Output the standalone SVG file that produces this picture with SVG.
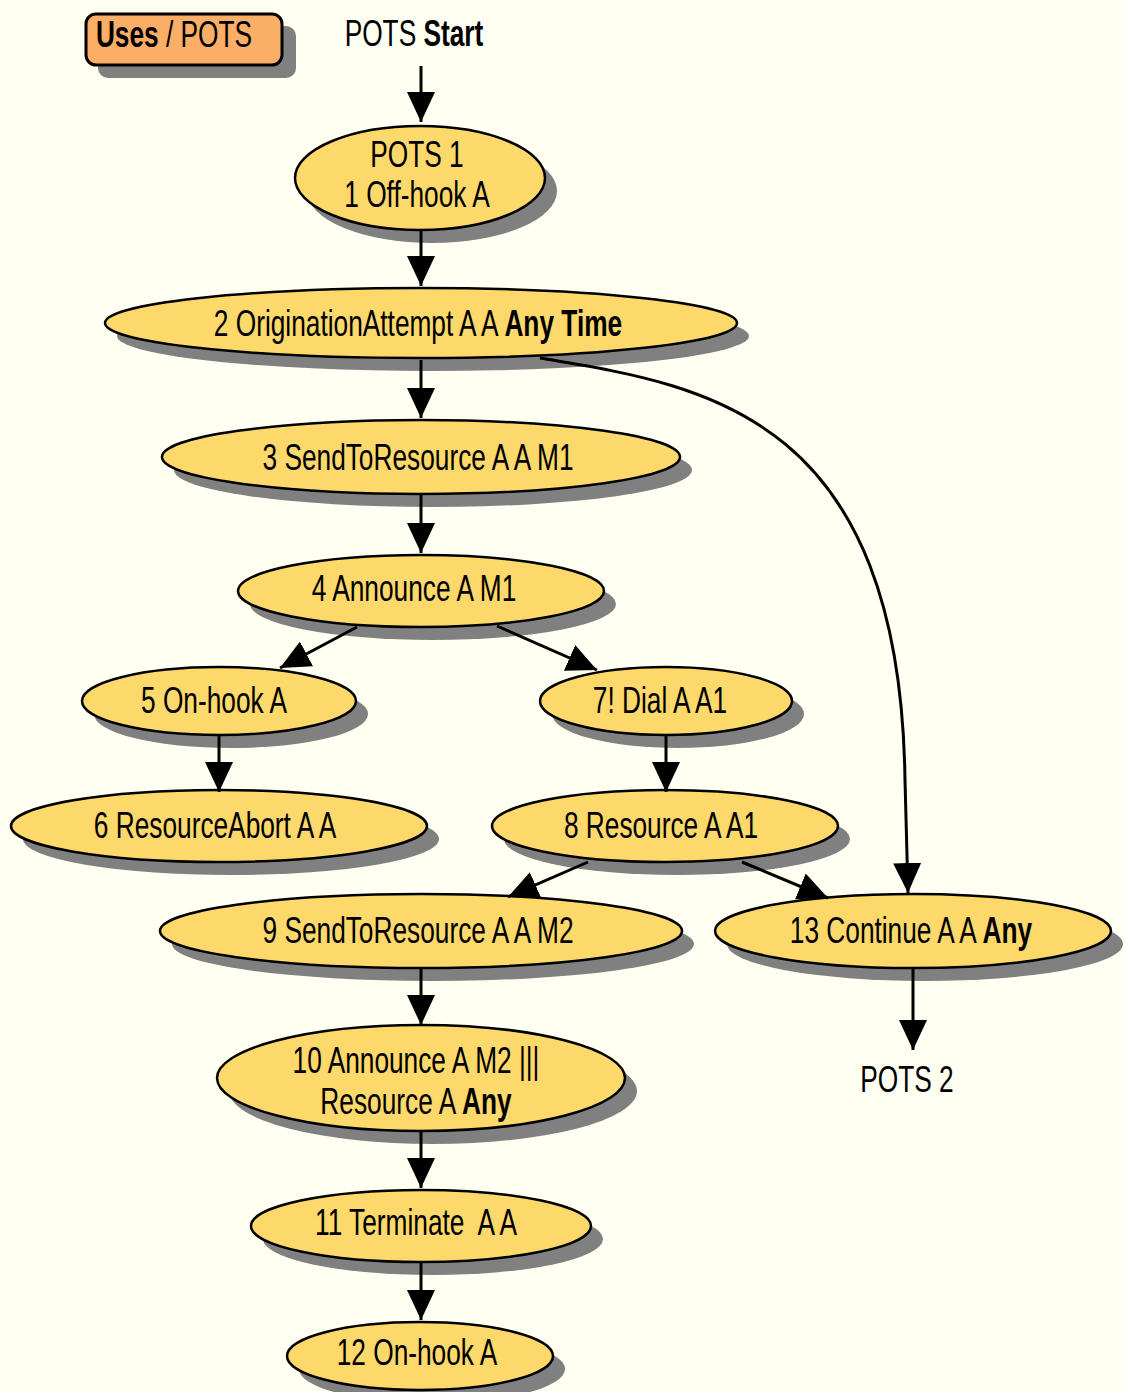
<svg xmlns="http://www.w3.org/2000/svg" width="1126" height="1392" viewBox="0 0 1126 1392">
<defs>
<style>
.bg{fill:#FFFFF2}
.sh{fill:#808080}
.nd{fill:#FCD96A;stroke:#000;stroke-width:2.5}
.t{font-family:"Liberation Sans",Arial,sans-serif;font-size:36px;fill:#000;text-anchor:middle}
.b{font-weight:bold}
.c{fill:none;stroke:#000;stroke-width:3;marker-end:url(#ah)}
</style>
<marker id="ah" viewBox="0 0 30 28" refX="30" refY="14" markerWidth="30" markerHeight="28" markerUnits="userSpaceOnUse" orient="auto">
<path d="M0,0 L30,14 L0,28 z" fill="#000"/>
</marker>
</defs>
<rect class="bg" x="0" y="0" width="1126" height="1392"/>

<g id="uses">
<rect class="sh" x="98" y="26" width="198" height="52" rx="10"/>
<rect x="86" y="14" width="196" height="51" rx="10" fill="#FBAE66" stroke="#000" stroke-width="3"/>
<g transform="translate(174,47) scale(0.73,1)"><text class="t" x="0" y="0"><tspan class="b">Uses</tspan> / POTS</text></g>
</g>

<g id="start">
<g transform="translate(414,46) scale(0.73,1)"><text class="t" x="0" y="0">POTS <tspan class="b">Start</tspan></text></g>
</g>

<g id="n1">
<ellipse class="sh" cx="432" cy="191" rx="125" ry="52"/>
<ellipse class="nd" cx="420" cy="178" rx="125" ry="52"/>
<g transform="translate(417,0) scale(0.73,1)"><text class="t" x="0" y="167">POTS 1</text><text class="t" x="0" y="207">1 Off-hook A</text></g>
</g>

<g id="n2">
<ellipse class="sh" cx="433" cy="336" rx="316" ry="35"/>
<ellipse class="nd" cx="421" cy="323" rx="316" ry="35"/>
<g transform="translate(418,336) scale(0.73,1)"><text class="t" x="0" y="0">2 OriginationAttempt A A <tspan class="b">Any Time</tspan></text></g>
</g>

<g id="n3">
<ellipse class="sh" cx="433" cy="470" rx="259" ry="37"/>
<ellipse class="nd" cx="421" cy="457" rx="259" ry="37"/>
<g transform="translate(418,470) scale(0.73,1)"><text class="t" x="0" y="0">3 SendToResource A A M1</text></g>
</g>

<g id="n4">
<ellipse class="sh" cx="433" cy="604" rx="183" ry="36"/>
<ellipse class="nd" cx="421" cy="591" rx="183" ry="36"/>
<g transform="translate(414,601) scale(0.73,1)"><text class="t" x="0" y="0">4 Announce A M1</text></g>
</g>

<g id="n5">
<ellipse class="sh" cx="231" cy="714" rx="137" ry="34"/>
<ellipse class="nd" cx="219" cy="701" rx="137" ry="34"/>
<g transform="translate(214,713) scale(0.73,1)"><text class="t" x="0" y="0">5 On-hook A</text></g>
</g>

<g id="n7">
<ellipse class="sh" cx="678" cy="714" rx="126" ry="34"/>
<ellipse class="nd" cx="666" cy="701" rx="126" ry="34"/>
<g transform="translate(660,713) scale(0.73,1)"><text class="t" x="0" y="0">7! Dial A A1</text></g>
</g>

<g id="n6">
<ellipse class="sh" cx="231" cy="839" rx="208" ry="36"/>
<ellipse class="nd" cx="219" cy="826" rx="208" ry="36"/>
<g transform="translate(215,838) scale(0.73,1)"><text class="t" x="0" y="0">6 ResourceAbort A A</text></g>
</g>

<g id="n8">
<ellipse class="sh" cx="677" cy="839" rx="173" ry="36"/>
<ellipse class="nd" cx="665" cy="826" rx="173" ry="36"/>
<g transform="translate(661,838) scale(0.73,1)"><text class="t" x="0" y="0">8 Resource A A1</text></g>
</g>

<g id="n9">
<ellipse class="sh" cx="433" cy="944" rx="261" ry="37"/>
<ellipse class="nd" cx="421" cy="931" rx="261" ry="37"/>
<g transform="translate(418,943) scale(0.73,1)"><text class="t" x="0" y="0">9 SendToResource A A M2</text></g>
</g>

<g id="n13">
<ellipse class="sh" cx="925" cy="944" rx="198" ry="37"/>
<ellipse class="nd" cx="913" cy="931" rx="198" ry="37"/>
<g transform="translate(911,943) scale(0.73,1)"><text class="t" x="0" y="0">13 Continue A A <tspan class="b">Any</tspan></text></g>
</g>

<g id="pots2">
<g transform="translate(907,1092) scale(0.73,1)"><text class="t" x="0" y="0">POTS 2</text></g>
</g>

<g id="n10">
<ellipse class="sh" cx="433" cy="1091" rx="204" ry="53"/>
<ellipse class="nd" cx="421" cy="1078" rx="204" ry="53"/>
<g transform="translate(416,0) scale(0.73,1)"><text class="t" x="0" y="1073">10 Announce A M2 |||</text><text class="t" x="0" y="1114">Resource A <tspan class="b">Any</tspan></text></g>
</g>

<g id="n11">
<ellipse class="sh" cx="433" cy="1239" rx="170" ry="36"/>
<ellipse class="nd" cx="421" cy="1226" rx="170" ry="36"/>
<g transform="translate(416,1235) scale(0.73,1)"><text class="t" x="0" y="0" style="white-space:pre">11 Terminate  A A</text></g>
</g>

<g id="n12">
<ellipse class="sh" cx="432" cy="1369" rx="133" ry="34"/>
<ellipse class="nd" cx="420" cy="1356" rx="133" ry="34"/>
<g transform="translate(417,1365) scale(0.73,1)"><text class="t" x="0" y="0">12 On-hook A</text></g>
</g>

<g id="connectors">
<path class="c" d="M421,66 L421,122"/>
<path class="c" d="M421,230 L421,286"/>
<path class="c" d="M421,360 L421,418"/>
<path class="c" d="M421,494 L421,553"/>
<path class="c" d="M357,627 L280,668"/>
<path class="c" d="M497,626 L597,670"/>
<path class="c" d="M219,735 L219,792"/>
<path class="c" d="M666,735 L666,792"/>
<path class="c" d="M588,862 L508,897"/>
<path class="c" d="M742,862 L828,898"/>
<path class="c" d="M540,358 C700,385 900,410 905,780 L908,893"/>
<path class="c" d="M421,968 L421,1025"/>
<path class="c" d="M913,968 L913,1050"/>
<path class="c" d="M421,1130 L421,1188"/>
<path class="c" d="M421,1262 L421,1320"/>
</g>
</svg>
